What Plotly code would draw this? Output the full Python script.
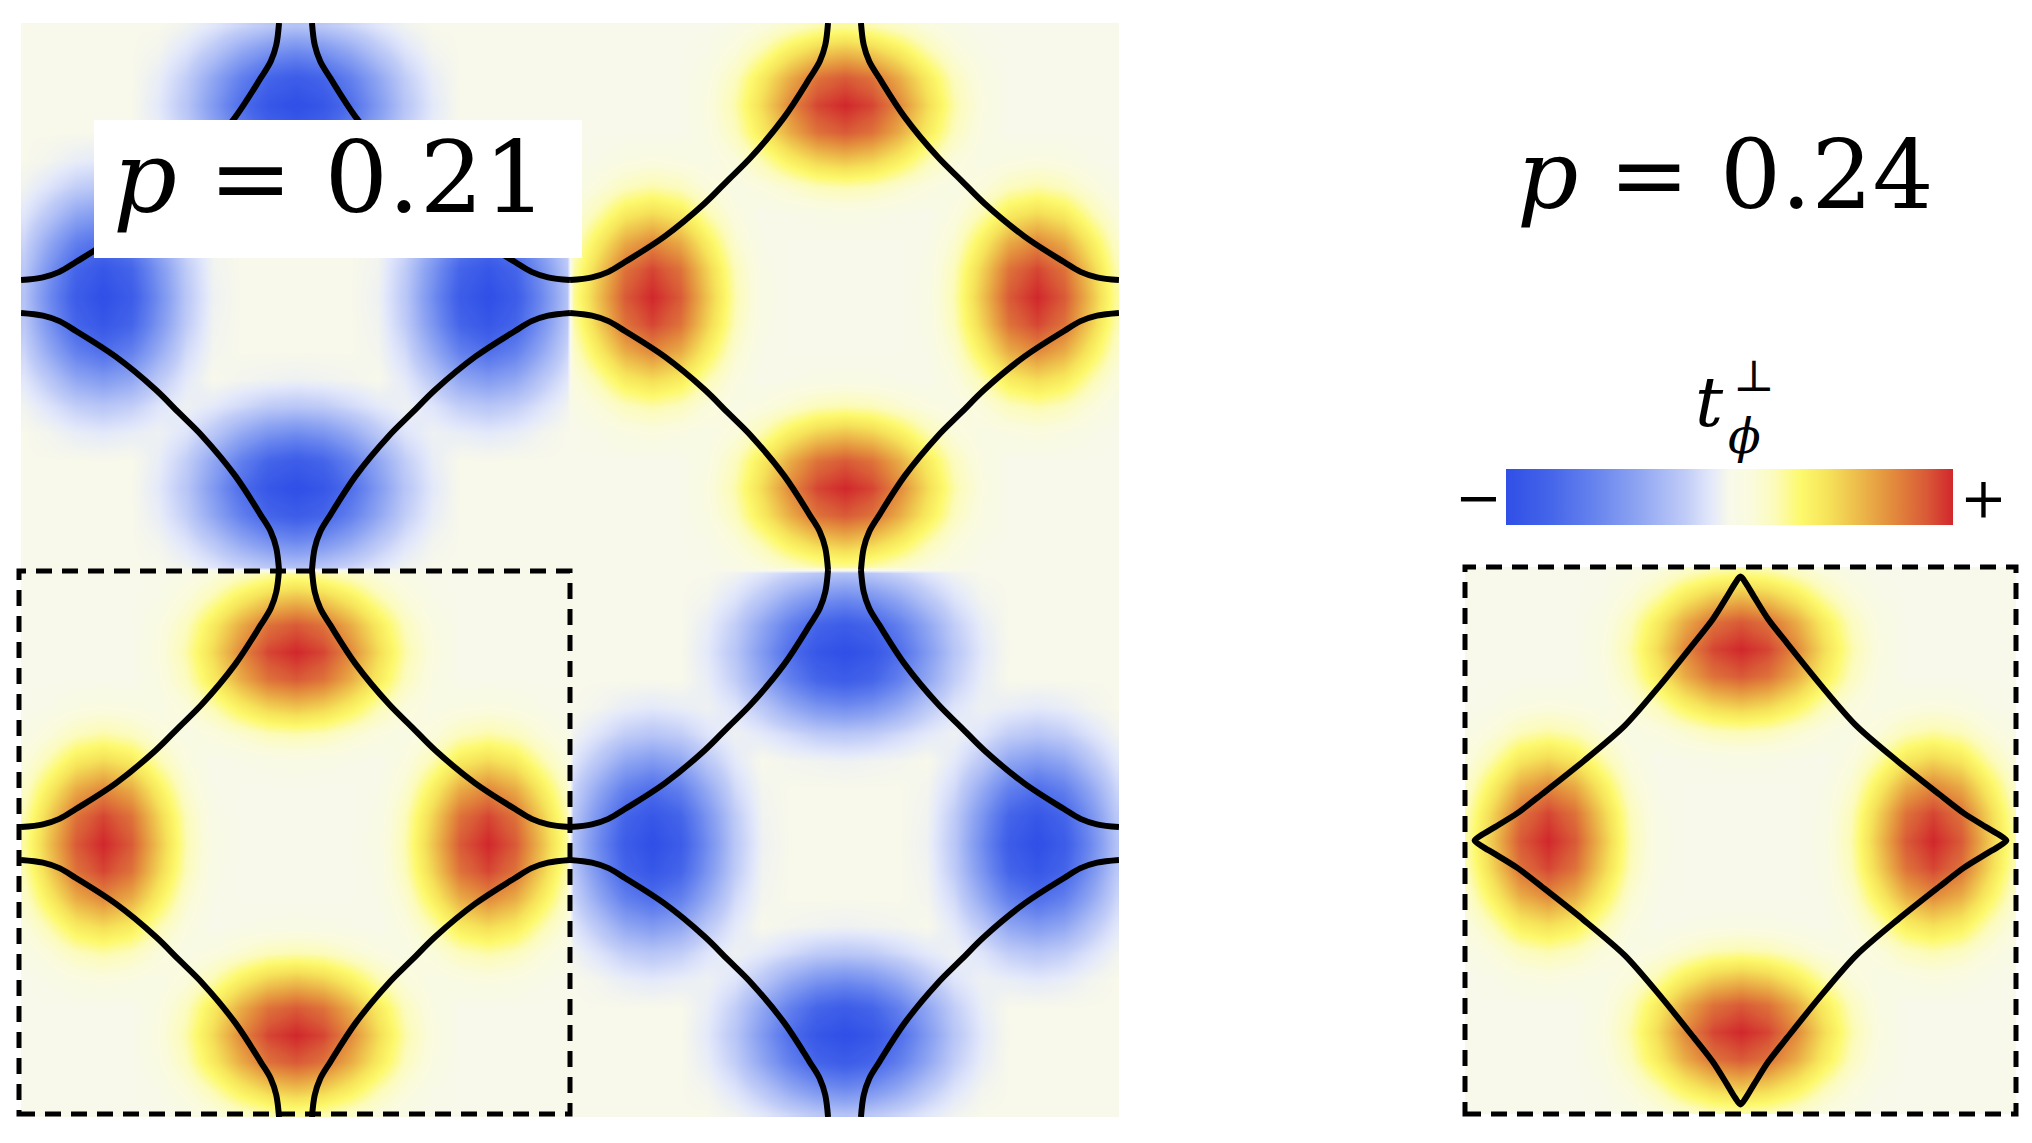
import numpy as np
import plotly.graph_objects as go

# node positions along half of a zone, centre -> edge (units of pi)
half_nodes = [0.0, 0.1, 0.2, 0.3, 0.4, 0.5, 0.6, 0.7, 0.8, 0.9, 0.99]

# t_phi^perp for one quadrant of a zone (rows kx, cols ky), +1 = red
quadrant = [
    [0.00, 0.00, 0.00, 0.04, 0.22, 0.55, 0.88, 1.00, 0.88, 0.55, 0.25],
    [0.00, 0.00, 0.00, 0.03, 0.20, 0.50, 0.81, 0.93, 0.81, 0.50, 0.22],
    [0.00, 0.00, 0.00, 0.02, 0.14, 0.38, 0.63, 0.74, 0.63, 0.38, 0.16],
    [0.04, 0.03, 0.02, 0.00, 0.08, 0.22, 0.40, 0.47, 0.40, 0.22, 0.09],
    [0.22, 0.20, 0.14, 0.08, 0.04, 0.10, 0.19, 0.23, 0.19, 0.10, 0.03],
    [0.55, 0.50, 0.38, 0.22, 0.10, 0.04, 0.06, 0.08, 0.06, 0.02, 0.00],
    [0.88, 0.81, 0.63, 0.40, 0.19, 0.06, 0.00, 0.00, 0.00, 0.00, 0.00],
    [1.00, 0.93, 0.74, 0.47, 0.23, 0.08, 0.00, 0.00, 0.00, 0.00, 0.00],
    [0.88, 0.81, 0.63, 0.40, 0.19, 0.06, 0.00, 0.00, 0.00, 0.00, 0.00],
    [0.55, 0.50, 0.38, 0.22, 0.10, 0.02, 0.00, 0.00, 0.00, 0.00, 0.00],
    [0.25, 0.22, 0.16, 0.09, 0.03, 0.00, 0.00, 0.00, 0.00, 0.00, 0.00],
]

# sign of t_phi^perp in the four zones of the p = 0.21 map (bottom row first)
zone_signs = [[1, -1], [-1, 1]]
zone_centres = [0, 2]

# Fermi surface, one arc per quadrant of a zone
fs021_kx = [0.06, 0.07, 0.09, 0.126, 0.22, 0.34, 0.425, 0.51, 0.655, 0.80, 0.86, 0.92, 1.0]
fs021_ky = [1.0, 0.92, 0.86, 0.80, 0.655, 0.51, 0.425, 0.34, 0.22, 0.126, 0.09, 0.07, 0.06]
fs024_kx = [0.0, 0.02, 0.05, 0.10, 0.17, 0.29, 0.42, 0.57, 0.72, 0.81, 0.89, 0.94, 0.965]
fs024_ky = [0.965, 0.94, 0.89, 0.81, 0.72, 0.57, 0.42, 0.29, 0.17, 0.10, 0.05, 0.02, 0.0]

colorscale = [
    [0.0, "#2f4fe7"], [0.1, "#4565ea"], [0.2, "#6784ee"], [0.3, "#90a6f2"],
    [0.4, "#bfcbf7"], [0.46, "#e4e9fa"], [0.5, "#f8f9ea"], [0.55, "#fafbdc"],
    [0.6, "#fcfbbc"], [0.66, "#fdf96c"], [0.72, "#f6e35a"], [0.8, "#ebb448"],
    [0.87, "#e2883c"], [0.94, "#d95a37"], [1.0, "#d1272c"],
]

W, H = 2032, 1143
OFF = 8  # page margin around the plot div
FONT = "DejaVu Serif"


def px(x):
    return (x - OFF) / W


def py(y):
    return 1 - (y - OFF) / H


# full zone from the quadrant by mirroring
idx = list(range(10, 0, -1)) + list(range(11))
nodes = [-half_nodes[i] for i in range(10, 0, -1)] + half_nodes
tile = np.array(quadrant)[np.ix_(idx, idx)].T
n = len(nodes)

big_nodes = nodes + [v + 2 for v in nodes]
big_z = np.zeros((2 * n, 2 * n))
for r in range(2):
    for c in range(2):
        big_z[r * n:(r + 1) * n, c * n:(c + 1) * n] = zone_signs[r][c] * tile

fig = go.Figure()
fig.add_trace(go.Heatmap(x=big_nodes, y=big_nodes, z=big_z, zsmooth="best",
                         coloraxis="coloraxis", hoverinfo="skip"))

lx, ly = [], []
for cy in zone_centres:
    for cx in zone_centres:
        for sx in (1, -1):
            for sy in (1, -1):
                lx += [cx + sx * u for u in fs021_kx] + [None]
                ly += [cy + sy * v for v in fs021_ky] + [None]
fig.add_trace(go.Scatter(x=lx, y=ly, mode="lines", hoverinfo="skip",
                         line=dict(color="black", width=6, shape="spline")))

fig.add_trace(go.Heatmap(x=nodes, y=nodes, z=tile, zsmooth="best",
                         coloraxis="coloraxis", hoverinfo="skip",
                         xaxis="x2", yaxis="y2"))

q1 = list(zip(fs024_kx, fs024_ky))
path = (q1 + [(u, -v) for u, v in reversed(q1)][1:]
        + [(-u, -v) for u, v in q1][1:] + [(-u, v) for u, v in reversed(q1)][1:])
fig.add_trace(go.Scatter(x=[p[0] for p in path], y=[p[1] for p in path],
                         mode="lines", hoverinfo="skip", xaxis="x2", yaxis="y2",
                         line=dict(color="black", width=6, shape="spline", smoothing=0.8)))

ax = dict(visible=False, fixedrange=True)
fig.update_layout(
    width=W, height=H, margin=dict(l=0, r=0, t=0, b=0),
    paper_bgcolor="white", plot_bgcolor="white", showlegend=False,
    xaxis=dict(ax, domain=[px(21), px(1119)], range=[-1, 3]),
    yaxis=dict(ax, domain=[py(1117), py(23)], range=[-1, 3]),
    xaxis2=dict(ax, domain=[px(1465), px(2016)], range=[-1, 1]),
    yaxis2=dict(ax, domain=[py(1114), py(567)], range=[-1, 1]),
    coloraxis=dict(
        colorscale=colorscale, cmin=-1, cmax=1,
        colorbar=dict(orientation="h", x=px(1506), xanchor="left",
                      y=py(525), yanchor="bottom", len=447 / W, lenmode="fraction",
                      thickness=56, outlinewidth=0, showticklabels=False, ticks="",
                      xpad=0, ypad=0),
    ),
)

dash = dict(color="black", width=5, dash="16px,10px")
fig.add_shape(type="rect", xref="paper", yref="paper", x0=px(19), x1=px(570),
              y0=py(1114), y1=py(571), line=dash, layer="above")
fig.add_shape(type="rect", xref="paper", yref="paper", x0=px(1465), x1=px(2016),
              y0=py(1114), y1=py(567), line=dash, layer="above")
fig.add_shape(type="rect", xref="paper", yref="paper", x0=px(94), x1=px(582),
              y0=py(258), y1=py(120), fillcolor="white", line_width=0, layer="above")


def label(text, x, y, size, xanchor="center", yanchor="middle"):
    fig.add_annotation(text=text, x=px(x), y=py(y), xref="paper", yref="paper",
                       showarrow=False, xanchor=xanchor, yanchor=yanchor,
                       font=dict(family=FONT, size=size, color="black"))


label("<i>p</i> = 0.21", 330, 178, 100)
label("<i>p</i> = 0.24", 1725, 175, 96)
label("<i>t</i>", 1726, 402, 70, xanchor="right")
label("<i>ϕ</i>", 1726, 436, 48, xanchor="left")
label("⊥", 1731, 403, 44, xanchor="left", yanchor="bottom")
label("−", 1478, 497, 56)
label("+", 1983, 497, 56)

fig.write_html("out.html")
